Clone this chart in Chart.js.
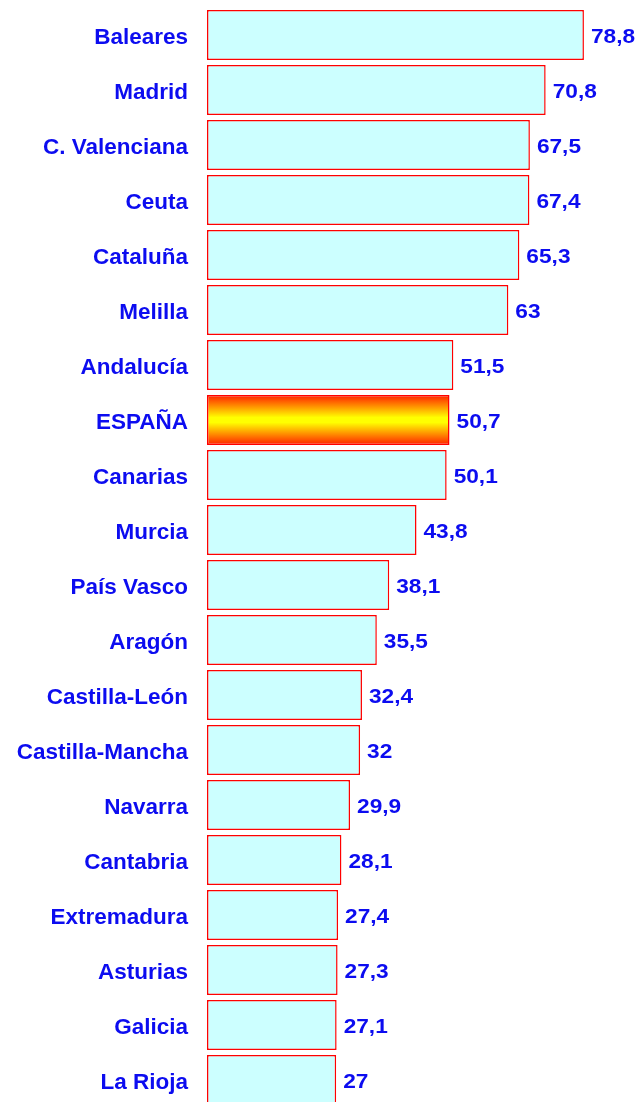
<!DOCTYPE html>
<html>
<head>
<meta charset="utf-8">
<script src="https://cdn.jsdelivr.net/npm/chart.js@4/dist/chart.umd.min.js"></script>
<style>
  html, body { margin: 0; padding: 0; background: #fff; overflow: hidden; }
  #wrap { position: relative; width: 639px; height: 1110px; }
</style>
</head>
<body>
<div id="wrap"><canvas id="chart"></canvas></div>
<script>
// --- Data ---
const regions = ['Baleares', 'Madrid', 'C. Valenciana', 'Ceuta', 'Cataluña', 'Melilla', 'Andalucía',
  'ESPAÑA', 'Canarias', 'Murcia', 'País Vasco', 'Aragón', 'Castilla-León', 'Castilla-Mancha',
  'Navarra', 'Cantabria', 'Extremadura', 'Asturias', 'Galicia', 'La Rioja'];
const values = [78.8, 70.8, 67.5, 67.4, 65.3, 63, 51.5, 50.7, 50.1, 43.8, 38.1, 35.5, 32.4, 32,
  29.9, 28.1, 27.4, 27.3, 27.1, 27];
const highlight = 'ESPAÑA';

const BLUE = '#0c0cf0';
const FONT = "'Liberation Sans', Arial, sans-serif";

// gradient for the Spain bar (red - yellow - red)
function barFill(ctx) {
  if (regions[ctx.dataIndex] !== highlight) return '#ccffff';
  const chart = ctx.chart;
  const y = chart.scales && chart.scales.y;
  if (!y || !chart.chartArea) return '#ffff00';
  const c = y.getPixelForValue(ctx.dataIndex);
  const h = y.height / regions.length * 0.91;
  const g = chart.ctx.createLinearGradient(0, c - h / 2, 0, c + h / 2);
  g.addColorStop(0, '#ff2000');
  g.addColorStop(0.45, '#ffff00');
  g.addColorStop(0.55, '#ffff00');
  g.addColorStop(1, '#ff2000');
  return g;
}

// value labels at the end of each bar (slightly wide type, like the original)
const valueLabels = {
  id: 'valueLabels',
  afterDatasetsDraw(chart) {
    const ctx = chart.ctx;
    const meta = chart.getDatasetMeta(0);
    const sx = 1.08;
    ctx.save();
    ctx.font = 'bold 21px ' + FONT;
    ctx.fillStyle = BLUE;
    ctx.textBaseline = 'middle';
    ctx.textAlign = 'left';
    meta.data.forEach((bar, i) => {
      const txt = String(values[i]).replace('.', ',');
      ctx.save();
      ctx.translate(bar.x + 7, bar.y + 2);
      ctx.scale(sx, 1);
      ctx.fillText(txt, 0, 0);
      ctx.restore();
    });
    ctx.restore();
  }
};

new Chart(document.getElementById('chart'), {
  type: 'bar',
  data: {
    labels: regions,
    datasets: [{
      data: values,
      backgroundColor: barFill,
      borderColor: '#ff0000',
      borderWidth: 1.5,
      borderSkipped: false,
      categoryPercentage: 1,
      barPercentage: 0.91
    }]
  },
  options: {
    indexAxis: 'y',
    responsive: true,
    maintainAspectRatio: false,
    animation: false,
    layout: { padding: { top: 7.5, bottom: 2.5, left: 0, right: 1.5 } },
    plugins: {
      legend: { display: false },
      tooltip: { enabled: false }
    },
    scales: {
      x: {
        display: false,
        min: 0,
        max: 90
      },
      y: {
        grid: { display: false, drawTicks: false },
        border: { display: false },
        ticks: {
          color: BLUE,
          font: { family: FONT, size: 22.5, weight: 'bold' },
          padding: 19,
          labelOffset: 2.5
        },
        afterFit(scale) {
          scale.width = 207;
          // drop the label padding Chart.js adds above and below the axis
          scale.paddingTop = 0;
          scale.paddingBottom = 0;
        }
      }
    }
  },
  plugins: [valueLabels]
});
</script>
</body>
</html>
